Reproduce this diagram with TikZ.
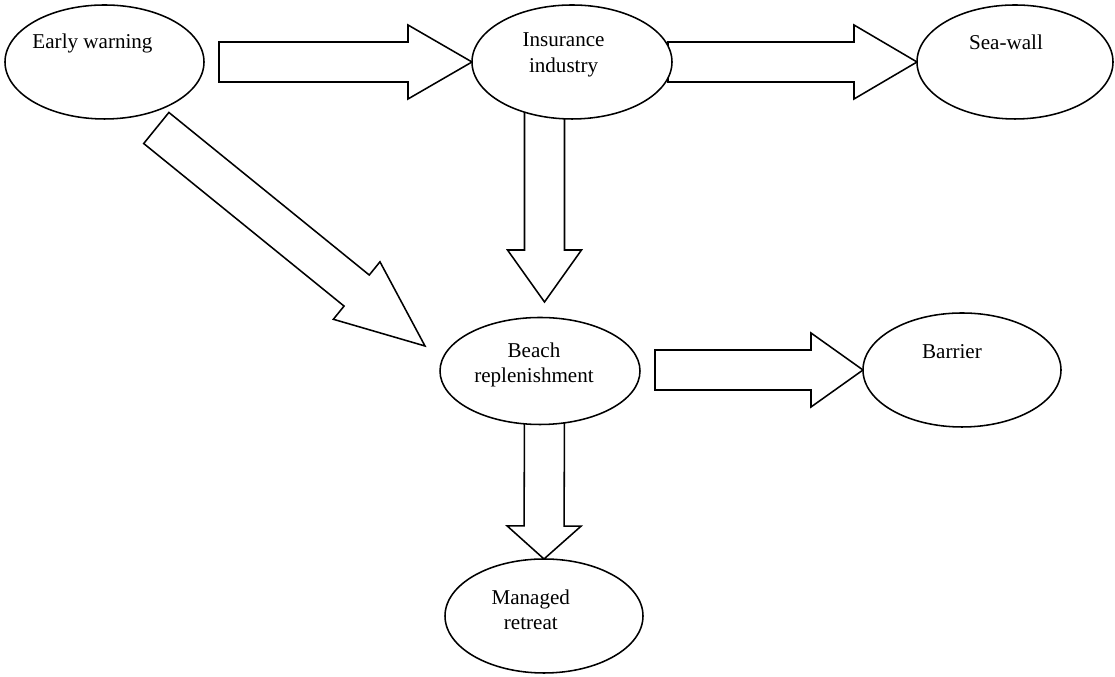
\documentclass[tikz,border=0pt]{standalone}
\usepackage{fontspec}
\setmainfont{Liberation Serif}
\usetikzlibrary{shapes.geometric,calc,backgrounds}

\newcommand{\arrshaft}{0.5cm}
\newcommand{\arrhead}{0.925cm}
% hollow block arrow: tail, tip, head length
\newcommand{\blockarrow}[3]{%
  \coordinate (hb) at ($(#2)!#3!(#1)$);
  \draw [barrow] ($(#1)!\arrshaft!90:(#2)$) -- ($(hb)!\arrshaft!90:(#2)$)
    -- ($(hb)!\arrhead!90:(#2)$) -- (#2) -- ($(hb)!\arrhead!-90:(#2)$)
    -- ($(hb)!\arrshaft!-90:(#2)$) -- ($(#1)!\arrshaft!-90:(#2)$) -- cycle;
}

\begin{document}
\begin{tikzpicture}[
  bubble/.style={ellipse, draw, line width=1.1pt, fill=white, inner sep=0pt, outer sep=0pt},
  barrow/.style={line width=1.1pt, fill=white, line join=miter},
  lbl/.style={font=\fontsize{15}{18}\selectfont, align=center, inner sep=0pt}]

\useasboundingbox (0,0) rectangle (27.875,16.925);

\node[bubble, minimum width=4.975cm, minimum height=2.85cm] (early) at (2.6125,15.375) {};
\node[bubble, minimum width=5.0cm, minimum height=2.85cm] (insurance) at (14.3,15.375) {};
\node[bubble, minimum width=4.9cm, minimum height=2.85cm] (seawall) at (25.375,15.375) {};
\node[bubble, minimum width=5.0cm, minimum height=2.675cm] (beach) at (13.5,7.65) {};
\node[bubble, minimum width=4.95cm, minimum height=2.85cm] (barrier) at (24.05,7.675) {};
\node[bubble, minimum width=4.95cm, minimum height=2.85cm] (managed) at (13.6,1.525) {};

\node[lbl, xshift=-3mm, yshift=4.75mm] (t-early) at (early) {Early warning};
\node[lbl, xshift=-2.1mm, yshift=1.75mm] (t-insurance) at (insurance) {Insurance\\industry};
\node[lbl, xshift=-2.25mm, yshift=4.9mm] (t-seawall) at (seawall) {Sea-wall};
\node[lbl, xshift=-1.5mm, yshift=1.6mm] (t-beach) at (beach) {Beach\\replenishment};
\node[lbl, xshift=-2.5mm, yshift=4.5mm] (t-barrier) at (barrier) {Barrier};
\node[lbl, xshift=-3.3mm, yshift=1.5mm] (t-managed) at (managed) {Managed\\retreat};

\coordinate (a1) at (5.475,15.375);
\coordinate (a2) at (16.7,15.375);
\coordinate (a3) at (13.6125,14.5);
\coordinate (b3) at (13.6125,9.375);
\coordinate (a4) at (16.375,7.675);
\coordinate (a5) at (13.6125,7.0);
\coordinate (a6) at (3.9075,13.725);
\coordinate (b6) at (10.625,8.275);

\begin{pgfonlayer}{background}
\fill [white] (0,0) rectangle (27.875,16.925);
\blockarrow{a1}{insurance.west}{1.6cm}
\blockarrow{a2}{seawall.west}{1.575cm}
\blockarrow{a3}{b3}{1.3cm}
\blockarrow{a4}{barrier.west}{1.3cm}
\blockarrow{a5}{managed.north}{0.825cm}
\blockarrow{a6}{b6}{2.2cm}
\end{pgfonlayer}

\end{tikzpicture}
\end{document}
